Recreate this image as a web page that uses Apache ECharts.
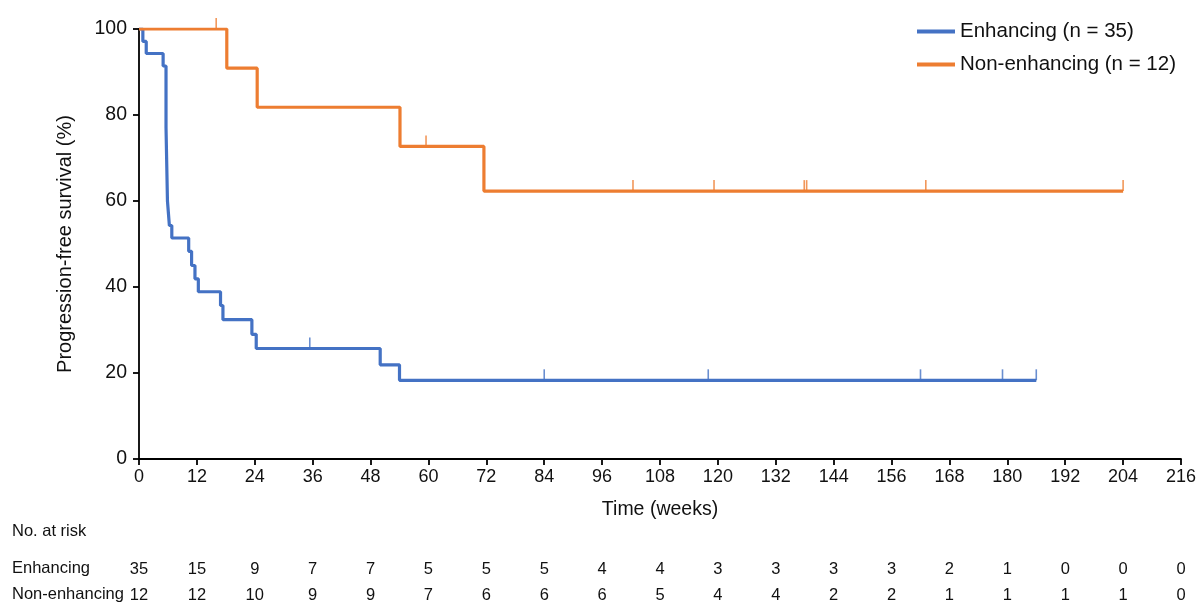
<!DOCTYPE html>
<html><head><meta charset="utf-8">
<script src="https://cdn.jsdelivr.net/npm/echarts@6/dist/echarts.min.js"></script>
<style>html,body{margin:0;padding:0;background:#fff}#c{width:1200px;height:616px}</style>
</head><body><div id="c"></div>
<script>
const FONT = 'Arial, "Liberation Sans", sans-serif';
const enhSteps = [[0,100],[0.8,97.1],[1.5,94.3],[5.0,91.4],[5.6,77.1],[5.9,60.0],[6.3,54.3],[6.8,51.4],[10.3,48.3],[10.9,45.0],[11.6,41.9],[12.3,38.9],[16.9,35.7],[17.4,32.4],[23.4,29.0],[24.3,25.7],[50.0,21.9],[54.0,18.3],[186,18.3]];
const nonSteps = [[0,100],[18.2,90.9],[24.5,81.8],[54.1,72.7],[71.5,62.3],[204,62.3]];
const enhCensor = [[35.4,25.7],[84,18.3],[118,18.3],[162,18.3],[179,18.3],[186,18.3]];
const nonCensor = [[16,100],[59.5,72.7],[102.4,62.3],[119.2,62.3],[137.9,62.3],[138.4,62.3],[163.1,62.3],[204,62.3]];
const riskTimes = [0,12,24,36,48,60,72,84,96,108,120,132,144,156,168,180,192,204,216];
const enhRisk = [35,15,9,7,7,5,5,5,4,4,3,3,3,3,2,1,0,0,0];
const nonRisk = [12,12,10,9,9,7,6,6,6,5,4,4,2,2,1,1,1,1,0];
const seriesNames = ['Enhancing (n = 35)','Non-enhancing (n = 12)'];
const colors = ['#4472C4','#ED7D31'];

const chart = echarts.init(document.getElementById('c'));
function riskAxis(arr, offset){
  return {type:'value', min:0, max:216, interval:12, position:'bottom', offset:offset,
    axisLine:{show:false}, axisTick:{show:false}, splitLine:{show:false},
    axisLabel:{margin:8, fontSize:16.5, color:'#111', fontFamily:FONT,
      formatter:function(v){const i=riskTimes.indexOf(v); return i>=0? String(arr[i]) : '';}}};
}
chart.setOption({
  animation:false,
  grid:{left:139, right:19, top:29, bottom:157},
  legend:{data:seriesNames, orient:'vertical', left:912, top:16, itemWidth:38, itemHeight:4, itemGap:12, icon:'rect',
    textStyle:{fontSize:20.5, color:'#111', fontFamily:FONT}},
  xAxis:[
    {type:'value', min:0, max:216, interval:12, name:'Time (weeks)', nameLocation:'middle', nameGap:41,
      nameTextStyle:{fontSize:19.5, color:'#111', fontFamily:FONT},
      axisLine:{lineStyle:{color:'#000', width:1.8}}, axisTick:{length:6, lineStyle:{color:'#000', width:1.8}},
      splitLine:{show:false}, axisLabel:{fontSize:18, color:'#111', margin:9, fontFamily:FONT}},
    riskAxis(enhRisk, 94),
    riskAxis(nonRisk, 120)
  ],
  yAxis:{type:'value', min:0, max:100, interval:20, name:'Progression-free survival (%)', nameLocation:'middle', nameGap:64,
    nameTextStyle:{fontSize:20, color:'#111', fontFamily:FONT},
    axisLine:{show:true, lineStyle:{color:'#000', width:1.8}}, axisTick:{show:true, length:6, lineStyle:{color:'#000', width:1.8}},
    splitLine:{show:false}, axisLabel:{fontSize:19.5, color:'#111', margin:12, fontFamily:FONT}},
  graphic:[
    {type:'text', left:12, top:523, style:{text:'No. at risk', fontSize:16.5, fill:'#111', fontFamily:FONT}},
    {type:'text', left:12, top:560, style:{text:'Enhancing', fontSize:16.5, fill:'#111', fontFamily:FONT}},
    {type:'text', left:12, top:586, style:{text:'Non-enhancing', fontSize:16.5, fill:'#111', fontFamily:FONT}}
  ],
  series:[
    {name:seriesNames[0], type:'line', step:'end', data:enhSteps, showSymbol:false, symbol:'none',
      lineStyle:{color:colors[0], width:3.2}, itemStyle:{color:colors[0]}, z:3},
    {name:seriesNames[1], type:'line', step:'end', data:nonSteps, showSymbol:false, symbol:'none',
      lineStyle:{color:colors[1], width:3.2}, itemStyle:{color:colors[1]}, z:3},
    {name:'enhC', type:'scatter', data:enhCensor, symbol:'rect', symbolSize:[1.6,11], symbolOffset:[0,-5.5],
      itemStyle:{color:colors[0]}, z:4},
    {name:'nonC', type:'scatter', data:nonCensor, symbol:'rect', symbolSize:[1.6,11], symbolOffset:[0,-5.5],
      itemStyle:{color:colors[1]}, z:4}
  ]
});
</script></body></html>
